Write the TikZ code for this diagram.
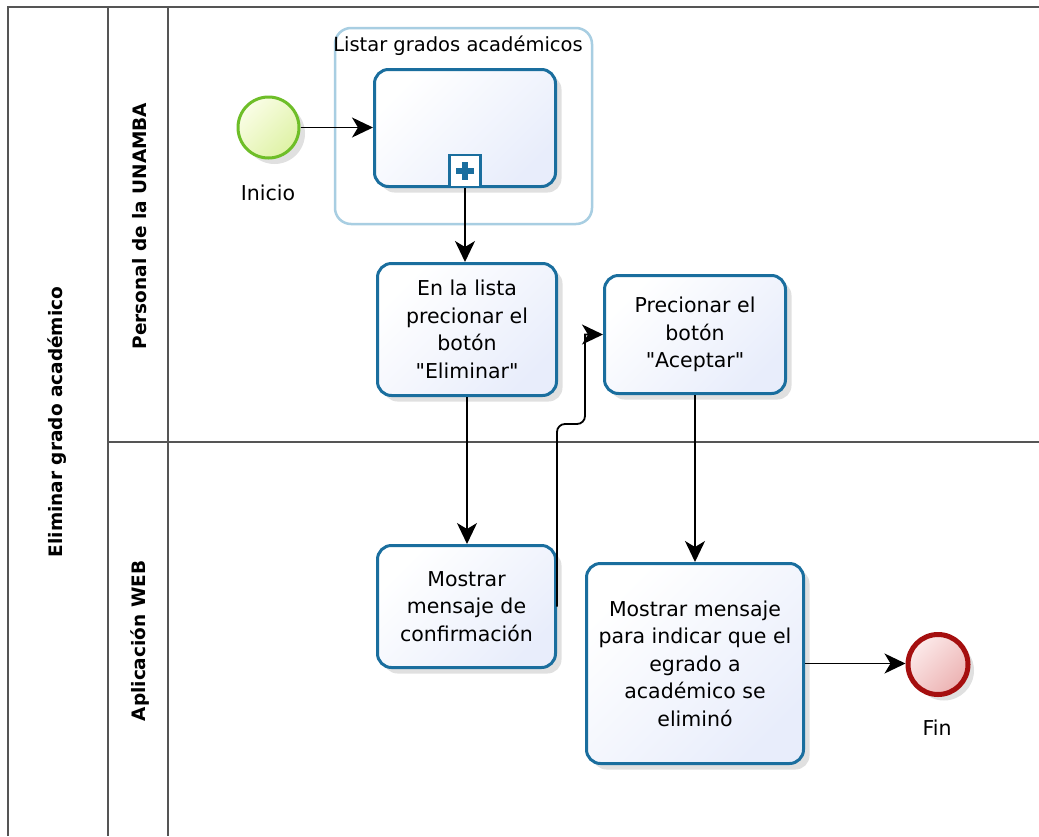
\documentclass[tikz,border=0pt]{standalone}
\usepackage{fontspec}
\setmainfont{DejaVu Sans}
\usetikzlibrary{arrows.meta,shadows}
\definecolor{taskborder}{RGB}{26,110,158}
\definecolor{taskfill}{RGB}{232,237,251}
\definecolor{grpborder}{RGB}{168,206,226}
\definecolor{startborder}{RGB}{110,190,40}
\definecolor{startfillA}{RGB}{250,253,230}
\definecolor{startfillB}{RGB}{222,242,165}
\definecolor{endborder}{RGB}{165,15,15}
\definecolor{endfillA}{RGB}{252,234,234}
\definecolor{endfillB}{RGB}{236,178,178}
\definecolor{laneline}{RGB}{85,85,85}
\begin{document}
\begin{tikzpicture}[x=1pt,y=-1pt,
  softshadow/.style={drop shadow={opacity=0.12, shadow xshift=6pt, shadow yshift=-6pt, fill=black}},
  task/.style={draw=taskborder, line width=3pt, rounded corners=14pt,
    top color=white, bottom color=taskfill, shading angle=45,
    align=center, inner sep=0pt, font=\fontsize{20.5}{27.5}\selectfont, softshadow},
  group/.style={draw=grpborder, line width=2.5pt, rounded corners=16pt, inner sep=0pt,
    minimum width=257pt, minimum height=196pt},
  marker/.style={draw=taskborder, line width=2.5pt, fill=white, inner sep=0pt,
    minimum width=31pt, minimum height=32pt},
  startev/.style={circle, draw=startborder, line width=3pt, inner sep=0pt, minimum size=61pt,
    top color=startfillA, bottom color=startfillB, shading angle=45, softshadow},
  endev/.style={circle, draw=endborder, line width=5pt, inner sep=0pt, minimum size=60pt,
    top color=endfillA, bottom color=endfillB, shading angle=45, softshadow},
  lbl/.style={font=\fontsize{20.5}{24}\selectfont, inner sep=0pt},
  grplbl/.style={font=\fontsize{19.5}{23}\selectfont, inner sep=0pt},
  lanelbl/.style={font=\fontsize{18.5}{22}\selectfont\bfseries, inner sep=0pt, rotate=90},
  lane/.style={draw=laneline, line width=2pt},
  arr/.style={-{Stealth[length=21pt,width=20pt,inset=6pt]}, line width=1.8pt, black}
]
\useasboundingbox[fill=white] (0,0) rectangle (1039,836);

% pool and lanes
\draw[lane] (8,836) -- (8,7) -- (1039,7);
\draw[lane] (108,7) -- (108,836);
\draw[lane] (168,7) -- (168,836);
\draw[lane] (108,442) -- (1039,442);

\node[lanelbl] (pool) at (57,422) {Eliminar grado académico};
\node[lanelbl] (lane1) at (140,226) {Personal de la UNAMBA};
\node[lanelbl] (lane2) at (140,641) {Aplicación WEB};

% start event
\node[startev] (start) at (268.5,127.5) {};
\node[lbl] (inicio) at (268,193) {Inicio};

% collapsed subprocess group
\node[group] (grp) at (463.5,126) {};
\node[grplbl] (grplabel) at (458,46) {Listar grados académicos};
\node[task, minimum width=181pt, minimum height=117pt] (sub) at (465,128) {};
\node[marker, anchor=south] (plus) at (sub.south) {};
\fill[taskborder] (plus.center) ++(-9,-3) rectangle ++(18,6);
\fill[taskborder] (plus.center) ++(-3,-9) rectangle ++(6,18);

% tasks
\node[task, minimum width=179pt, minimum height=132pt] (t1) at (467,329.5)
  {En la lista\\precionar el\\botón\\\textquotedbl Eliminar\textquotedbl};
\node[task, minimum width=181pt, minimum height=118pt] (t2) at (695,334.5)
  {Precionar el\\botón\\\textquotedbl Aceptar\textquotedbl};
\node[task, minimum width=178pt, minimum height=122pt] (conf) at (466.5,606.5)
  {Mostrar\\mensaje de\\confirmación};
\node[task, minimum width=217pt, minimum height=200pt] (t4) at (695,663.5)
  {Mostrar mensaje\\para indicar que el\\egrado a\\académico se\\eliminó};

% end event
\node[endev] (end) at (938,664.5) {};
\node[lbl] (fin) at (937,728) {Fin};

% connectors
\coordinate (bendA) at (585,424);
\draw[arr] (start.east) -- (sub.west |- start.east);
\draw[arr] (sub.south) -- (sub.south |- t1.north);
\draw[arr] (t1.south) -- (t1.south |- conf.north);
\draw[arr] (conf.east) [rounded corners=8pt] -- (conf.east |- bendA) -- (bendA)
  [sharp corners] -- (bendA |- t2.west) -- (t2.west);
\draw[arr] (t2.south) -- (t2.south |- t4.north);
\draw[arr] (t4.east) -- (t4.east -| end.west);
\end{tikzpicture}
\end{document}
